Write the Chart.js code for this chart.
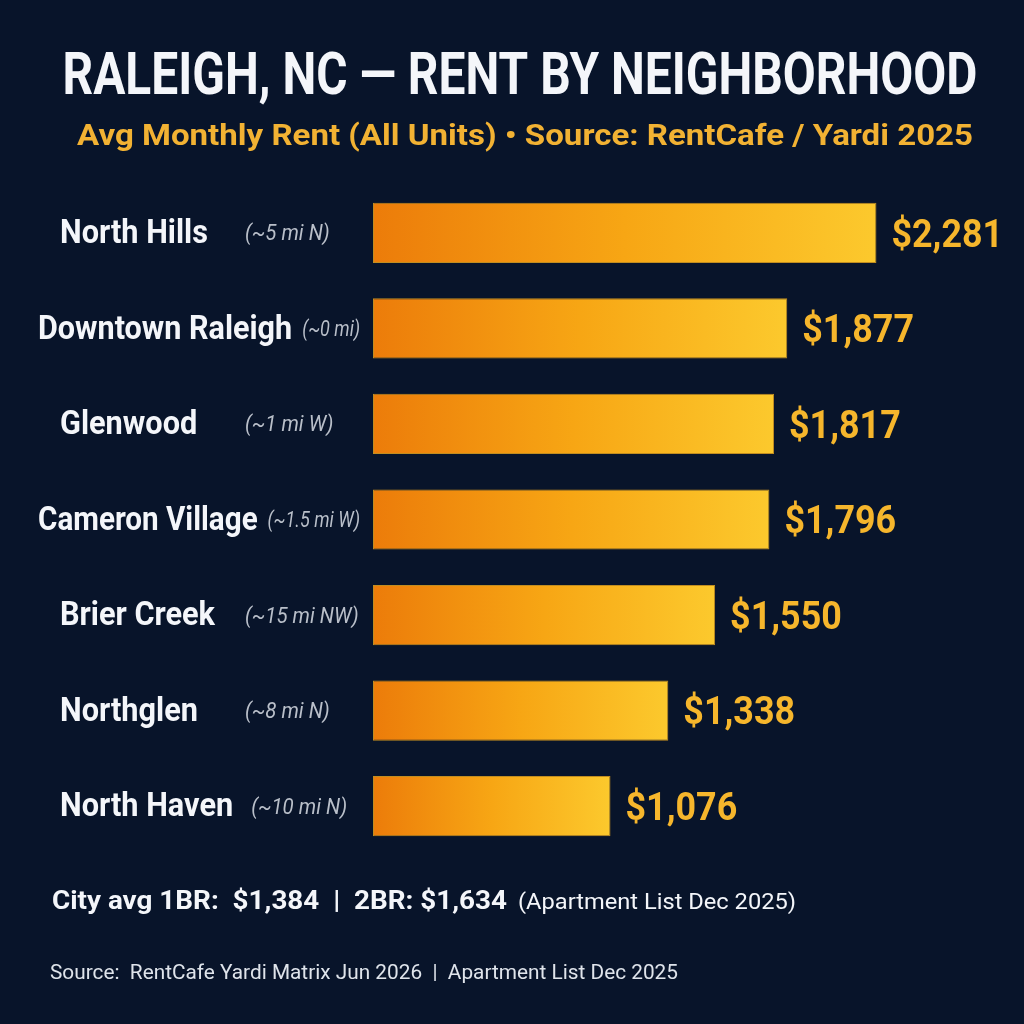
<!DOCTYPE html>
<html>
<head>
<meta charset="utf-8">
<script src="https://cdn.jsdelivr.net/npm/chart.js@4.4.1/dist/chart.umd.min.js"></script>
<style>
  html, body { margin: 0; padding: 0; background: #08142a; }
  #wrap { width: 1024px; height: 1024px; }
</style>
</head>
<body>
<div id="wrap"><canvas id="rent-chart" width="1024" height="1024"></canvas></div>
<script>
const neighborhoods = ['North Hills', 'Downtown Raleigh', 'Glenwood', 'Cameron Village', 'Brier Creek', 'Northglen', 'North Haven'];
const distances = ['(~5 mi N)', '(~0 mi)', '(~1 mi W)', '(~1.5 mi W)', '(~15 mi NW)', '(~8 mi N)', '(~10 mi N)'];
const avgRent = [2281, 1877, 1817, 1796, 1550, 1338, 1076];

const titleText = 'RALEIGH, NC \u2014 RENT BY NEIGHBORHOOD';
const subtitleText = 'Avg Monthly Rent (All Units) \u2022 Source: RentCafe / Yardi 2025';
const cityAvgText = 'City avg 1BR:  $1,384  |  2BR: $1,634';
const cityAvgNote = '(Apartment List Dec 2025)';
const sourceText = 'Source:  RentCafe Yardi Matrix Jun 2026  |  Apartment List Dec 2025';

const FONT = 'Roboto, "Noto Sans", sans-serif';
const fmtMoney = (v) => '$' + v.toLocaleString('en-US');

// squeeze horizontally to mimic a condensed face; fitWidth overrides squeeze
function drawText(ctx, str, x, y, font, color, { align = 'left', squeeze = 1, fitWidth = 0 } = {}) {
    ctx.save();
    ctx.font = font;
    ctx.fillStyle = color;
    ctx.textAlign = 'left';
    ctx.textBaseline = 'middle';
    const w = ctx.measureText(str).width;
    const sx = fitWidth ? fitWidth / w : squeeze;
    const drawnW = w * sx;
    let left = x;
    if (align === 'center') left = x - drawnW / 2;
    if (align === 'right') left = x - drawnW;
    ctx.translate(left, y);
    ctx.scale(sx, 1);
    ctx.fillText(str, 0, 0);
    ctx.restore();
    return drawnW;
}

function textWidth(ctx, str, font, squeeze) {
    ctx.font = font;
    return ctx.measureText(str).width * squeeze;
}

const textPlugin = {
    id: 'rentText',
    afterDatasetsDraw(chart) {
        const ctx = chart.ctx;
        const yScale = chart.scales.y;
        const meta = chart.getDatasetMeta(0);

        drawText(ctx, titleText, 520, 79, `bold 60px ${FONT}`, '#f4f6fa', { align: 'center', fitWidth: 915 });
        drawText(ctx, subtitleText, 525, 137, `bold 30px ${FONT}`, '#f2b233', { align: 'center', fitWidth: 896 });

        const nameFont = `bold 33px ${FONT}`;
        const distFont = `italic 22px ${FONT}`;
        const valueFont = `bold 39px ${FONT}`;
        neighborhoods.forEach((name, i) => {
            const y = yScale.getPixelForValue(i) + 2;
            const nameW = textWidth(ctx, name, nameFont, 0.93);
            const distW = textWidth(ctx, distances[i], distFont, 0.93);
            let nameX = 60;
            let distX = Math.max(245, nameX + nameW + 18);
            if (distX + distW > 362) {
                // long names: tighten both parts and start further left
                const tightDistW = textWidth(ctx, distances[i], distFont, 0.82);
                distX = 360 - tightDistW;
                const nameRight = distX - 10;
                const nameLeft = Math.max(38, nameRight - nameW);
                drawText(ctx, name, nameLeft, y, nameFont, '#f4f6fa', { fitWidth: nameRight - nameLeft });
                drawText(ctx, distances[i], distX, y, distFont, '#b9bfc9', { squeeze: 0.82 });
            } else {
                drawText(ctx, name, nameX, y, nameFont, '#f4f6fa', { squeeze: 0.93 });
                drawText(ctx, distances[i], distX, y, distFont, '#b9bfc9', { squeeze: 0.93 });
            }

            const bar = meta.data[i];
            drawText(ctx, fmtMoney(avgRent[i]), bar.x + 15, y + 2, valueFont, '#f6b62c', { squeeze: 0.92 });
        });

        drawText(ctx, cityAvgText, 52, 903, `bold 25px ${FONT}`, '#f4f6fa', { fitWidth: 455 });
        drawText(ctx, cityAvgNote, 518, 903, `22px ${FONT}`, '#f4f6fa', { fitWidth: 278 });
        drawText(ctx, sourceText, 50, 974, `20px ${FONT}`, '#dfe4eb', { fitWidth: 628 });
    },
};

function barGradient(context) {
    const chart = context.chart;
    const xScale = chart.scales.x;
    if (!xScale || !chart.chartArea || context.raw === undefined) return '#f59e0b';
    const x0 = xScale.getPixelForValue(0);
    const x1 = xScale.getPixelForValue(context.raw);
    const g = chart.ctx.createLinearGradient(x0, 0, x1, 0);
    g.addColorStop(0, '#ec7c0a');
    g.addColorStop(0.5, '#f7a614');
    g.addColorStop(1, '#fcc92d');
    return g;
}

function init() {
    const ctx = document.getElementById('rent-chart').getContext('2d');
    new Chart(ctx, {
        type: 'bar',
        data: {
            labels: neighborhoods,
            datasets: [
                {
                    label: 'Avg Monthly Rent',
                    data: avgRent,
                    backgroundColor: barGradient,
                    borderColor: 'rgba(214, 154, 31, 0.9)',
                    borderWidth: 1,
                    borderSkipped: false,
                    barPercentage: 0.63,
                    categoryPercentage: 1,
                },
            ],
        },
        options: {
            indexAxis: 'y',
            responsive: false,
            animation: false,
            layout: { padding: { left: 373, right: 33, top: 185, bottom: 170 } },
            scales: {
                x: { display: false, min: 0, max: 2800 },
                y: { display: false },
            },
            plugins: {
                legend: { display: false },
                tooltip: { enabled: false },
            },
        },
        plugins: [textPlugin],
    });
}

init();
</script>
</body>
</html>
